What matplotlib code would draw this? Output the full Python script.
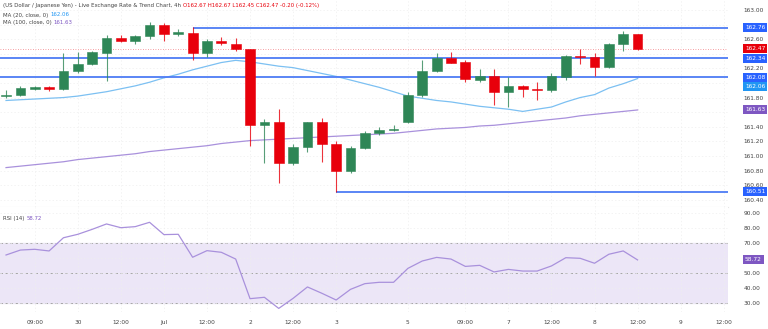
import numpy as np
import matplotlib.pyplot as plt
import matplotlib.transforms as mtransforms

# 4h candles, USD/JPY
opens = [161.82, 161.83, 161.92, 161.94, 161.92, 162.17, 162.26, 162.41, 162.61, 162.58,
         162.64, 162.80, 162.67, 162.69, 162.41, 162.58, 162.54, 162.46, 161.43, 161.47,
         160.90, 161.12, 161.46, 161.16, 160.79, 161.11, 161.32, 161.36, 161.46, 161.84,
         162.16, 162.34, 162.29, 162.04, 162.10, 161.87, 161.96, 161.92, 161.91, 162.08,
         162.37, 162.35, 162.22, 162.54, 162.67]
highs = [161.90, 161.96, 161.96, 161.96, 162.41, 162.42, 162.44, 162.66, 162.66, 162.66,
         162.84, 162.82, 162.74, 162.77, 162.60, 162.63, 162.62, 162.47, 161.50, 161.64,
         161.17, 161.47, 161.52, 161.20, 161.14, 161.34, 161.39, 161.43, 161.87, 162.32,
         162.41, 162.43, 162.32, 162.19, 162.19, 162.08, 161.97, 162.02, 162.14, 162.38,
         162.46, 162.41, 162.55, 162.71, 162.67]
lows = [161.80, 161.82, 161.90, 161.89, 161.91, 162.13, 162.24, 162.03, 162.56, 162.54,
        162.60, 162.57, 162.64, 162.31, 162.36, 162.52, 162.44, 161.13, 160.90, 160.63,
        160.88, 161.05, 160.92, 160.51, 160.77, 161.10, 161.29, 161.34, 161.45, 161.81,
        162.15, 162.27, 162.01, 162.01, 161.70, 161.67, 161.81, 161.76, 161.87, 162.04,
        162.26, 162.09, 162.21, 162.44, 162.45]
closes = [161.84, 161.93, 161.94, 161.92, 162.17, 162.26, 162.42, 162.61, 162.58, 162.64,
          162.80, 162.67, 162.70, 162.41, 162.58, 162.55, 162.46, 161.43, 161.47, 160.90,
          161.12, 161.46, 161.16, 160.79, 161.11, 161.31, 161.36, 161.37, 161.84, 162.16,
          162.34, 162.28, 162.05, 162.10, 161.87, 161.96, 161.92, 161.91, 162.09, 162.37,
          162.35, 162.22, 162.54, 162.67, 162.47]

ma20 = [161.76, 161.77, 161.78, 161.79, 161.80, 161.82, 161.85, 161.88, 161.92, 161.96,
        162.01, 162.07, 162.12, 162.18, 162.23, 162.28, 162.31, 162.29, 162.26, 162.23,
        162.21, 162.17, 162.13, 162.09, 162.04, 161.99, 161.94, 161.88, 161.82, 161.79,
        161.76, 161.74, 161.71, 161.68, 161.66, 161.64, 161.61, 161.64, 161.67, 161.74,
        161.80, 161.84, 161.93, 161.99, 162.06]
ma100 = [160.84, 160.86, 160.88, 160.90, 160.92, 160.95, 160.97, 160.99, 161.01, 161.03,
         161.06, 161.08, 161.10, 161.12, 161.14, 161.17, 161.19, 161.21, 161.22, 161.23,
         161.24, 161.25, 161.26, 161.27, 161.28, 161.29, 161.30, 161.31, 161.33, 161.35,
         161.37, 161.38, 161.39, 161.41, 161.42, 161.44, 161.46, 161.48, 161.50, 161.52,
         161.55, 161.57, 161.59, 161.61, 161.63]
rsi = [62.0, 65.3, 65.8, 64.7, 73.5, 75.8, 79.1, 82.7, 80.2, 80.9,
       83.8, 75.6, 75.8, 60.5, 64.9, 63.8, 59.3, 32.9, 33.8, 26.4,
       33.1, 40.7, 36.5, 32.0, 39.1, 42.9, 43.8, 43.8, 53.1, 58.0,
       60.4, 59.3, 54.4, 55.1, 50.7, 52.4, 51.3, 51.3, 54.7, 60.2,
       59.8, 56.5, 62.5, 64.7, 58.72]

# horizontal levels and the candle each one starts at
levels = [162.76, 162.34, 162.08, 160.51]
level_start = [13, -1, -1, 23]

price_ticks = [160.40, 160.60, 160.80, 161.00, 161.20, 161.40, 161.60, 161.80,
               162.00, 162.20, 162.40, 162.60, 162.80, 163.00]
hidden_ticks = [161.60, 162.00, 162.40, 162.80]   # covered by the tags

tick_idx = [2, 5, 8, 11, 14, 17, 20, 23, 28, 32, 35, 38, 41, 44, 47, 50]
tick_lbl = ['09:00', '30', '12:00', 'Jul', '12:00', '2', '12:00', '3', '5',
            '09:00', '7', '12:00', '8', '12:00', '9', '12:00']

GREEN = '#2e8656'
RED = '#e8000b'
BLUE = '#4d7cf5'
MA20C = '#7cc0f2'
MA100C = '#a991dc'
TXT = '#444444'

W, H = 768, 329
fig = plt.figure(figsize=(W / 100, H / 100), dpi=100)
ax = fig.add_axes([0, (H - 207) / H, 728 / W, 207 / H])
ax2 = fig.add_axes([0, (H - 312) / H, 728 / W, 105 / H], sharex=ax)

x = np.arange(len(closes))
o = np.array(opens)
c = np.array(closes)
up = c >= o
cols = np.where(up, GREEN, RED)

ax.vlines(x, lows, highs, colors=cols, linewidth=0.8, alpha=0.8, zorder=3)
body = np.maximum(np.abs(c - o), 0.012)
ax.bar(x, body, bottom=np.minimum(o, c), width=0.68, color=cols,
       edgecolor=cols, linewidth=0.4, zorder=4)

ax.plot(x, ma20, color=MA20C, linewidth=0.9, zorder=2)
ax.plot(x, ma100, color=MA100C, linewidth=0.9, zorder=2)

for lv, st in zip(levels, level_start):
    x0 = -0.5 if st < 0 else st
    ax.hlines(lv, x0, 50.5, color=BLUE, linewidth=1.3, zorder=2)
ax.axhline(closes[-1], color=RED, linewidth=0.6, linestyle=(0, (1, 2)), alpha=0.5, zorder=1)

ax.set_ylim(160.30, 163.137)
ax.set_xlim(-0.42, 50.3)
ax.set_yticks(price_ticks)
ax.set_yticklabels(['' if any(abs(v - h) < 1e-6 for h in hidden_ticks) else f'{v:.2f}'
                    for v in price_ticks])
ax.yaxis.tick_right()
ax.tick_params(axis='y', length=0, pad=11, labelsize=4.2, labelcolor=TXT)
ax.tick_params(axis='x', length=0, labelbottom=False)
ax.grid(True, color='#eeeeee', linewidth=0.5, linestyle=(0, (2, 3)))
for s in ax.spines.values():
    s.set_visible(False)
ax.spines['bottom'].set_visible(True)
ax.spines['bottom'].set_color('#e6e6e6')

# RSI pane
ax2.axhspan(30, 70, color='#ece6f7', zorder=0)
for lv in [70, 50, 30]:
    ax2.axhline(lv, color='#9a9a9a', linewidth=0.6, linestyle=(0, (3, 3)), zorder=1)
ax2.plot(x, rsi, color=MA100C, linewidth=0.9, zorder=3)
ax2.set_ylim(24, 94)
ax2.set_yticks([30, 40, 50, 60, 70, 80, 90])
ax2.set_yticklabels(['30.00', '40.00', '50.00', '', '70.00', '80.00', '90.00'])
ax2.yaxis.tick_right()
ax2.tick_params(axis='y', length=0, pad=11, labelsize=4.2, labelcolor=TXT)
ax2.set_xticks(tick_idx)
ax2.set_xticklabels(tick_lbl)
ax2.tick_params(axis='x', length=0, pad=6, labelsize=4.2, labelcolor=TXT)
ax2.grid(True, color='#eeeeee', linewidth=0.5, linestyle=(0, (2, 3)))
for s in ax2.spines.values():
    s.set_visible(False)

# price-axis tags (dy in pixels, to keep touching tags apart)
def tag(a, val, text, color, dy=0):
    tr = mtransforms.blended_transform_factory(fig.transFigure, a.transData)
    tr = mtransforms.offset_copy(tr, fig=fig, y=-dy, units='dots')
    a.text(745 / W, val, text, transform=tr, fontsize=4.2, color='white',
           ha='left', va='center', clip_on=False, zorder=10,
           bbox=dict(boxstyle='square,pad=0.35', fc=color, ec='none'))

tag(ax, 162.76, '162.76', '#2962ff')
tag(ax, closes[-1], f'{closes[-1]:.2f}', RED)
tag(ax, 162.34, '162.34', '#2962ff')
tag(ax, 162.08, '162.08', '#2962ff')
tag(ax, ma20[-1], f'{ma20[-1]:.2f}', '#2196f3', dy=7.5)
tag(ax, ma100[-1], f'{ma100[-1]:.2f}', '#7e57c2')
tag(ax, 160.51, '160.51', '#2962ff')
tag(ax2, rsi[-1], f'{rsi[-1]:.2f}', '#7e57c2')

# header / legend lines, each value placed right after its label
fs = 3.9
renderer = fig.canvas.get_renderer()

def line(y_px, parts):
    xpos = 3
    for s, col in parts:
        t = fig.text(xpos / W, 1 - y_px / H, s, fontsize=fs, color=col, va='center')
        xpos = t.get_window_extent(renderer).x1 + 2

line(6, [('(US Dollar / Japanese Yen) - Live Exchange Rate & Trend Chart, 4h', TXT),
         (f'O{opens[-1]:.2f} H{highs[-1]:.2f} L{lows[-1]:.2f} C{closes[-1]:.2f} -0.20 (-0.12%)', RED)])
line(15, [('MA (20, close, 0)', TXT), (f'{ma20[-1]:.2f}', '#2196f3')])
line(22.5, [('MA (100, close, 0)', TXT), (f'{ma100[-1]:.2f}', '#7e57c2')])
line(218.5, [('RSI (14)', TXT), (f'{rsi[-1]:.2f}', '#7e57c2')])

fig.savefig('out.png', dpi=100)
